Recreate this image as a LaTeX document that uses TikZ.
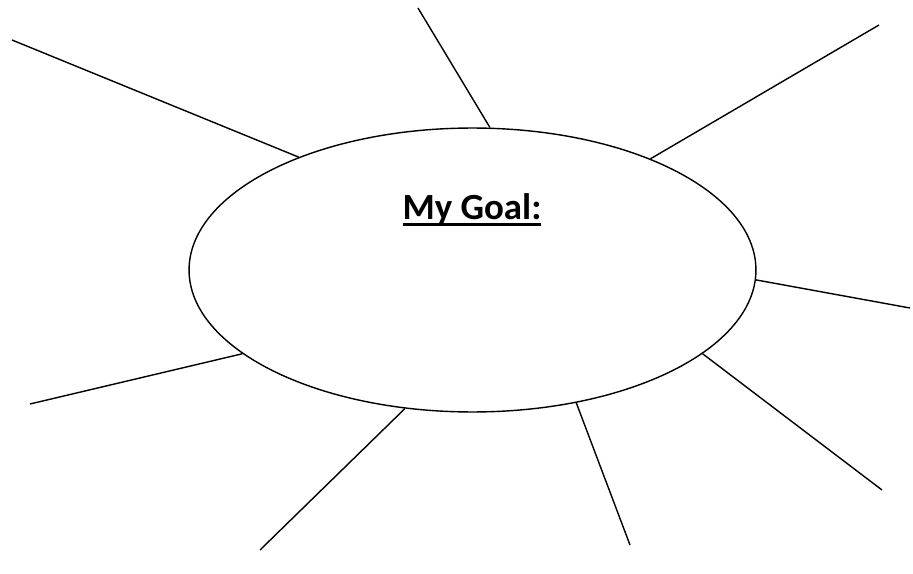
\documentclass[tikz,border=0pt]{standalone}
\usepackage{fontspec}
\setmainfont{Carlito}
\usepackage{tikz}
\usetikzlibrary{shapes.geometric}
\newcommand{\thickul}[1]{\setbox0\hbox{#1}\rlap{\rule[-4pt]{\wd0}{2pt}}\box0}

\begin{document}
\begin{tikzpicture}[x=0.02cm,y=-0.02cm,
   spoke/.style={line width=0.8pt,black},
   bubble/.style={draw,line width=0.8pt,ellipse,inner sep=0pt,
                  minimum width=11.34cm,minimum height=5.68cm}]
  \useasboundingbox (0,0) rectangle (913,574);
  \node[bubble] (goal) at (472.5,270) {};
  \node[font=\fontsize{21}{25}\selectfont\bfseries] (title) at (472,210) {\thickul{My Goal:}};
  % free ends of the spokes
  \coordinate (e1) at (12,40);
  \coordinate (e2) at (418,8);
  \coordinate (e3) at (879,25);
  \coordinate (e4) at (910,308);
  \coordinate (e5) at (882,490);
  \coordinate (e6) at (630,545);
  \coordinate (e7) at (260,550);
  \coordinate (e8) at (30,404);
  \draw[spoke] (goal.147.5) -- (e1);
  \draw[spoke] (goal.83.3) -- (e2);
  \draw[spoke] (goal.32) -- (e3);
  \draw[spoke] (goal.-2.8) -- (e4);
  \draw[spoke] (goal.-20.3) -- (e5);
  \draw[spoke] (goal.-52.1) -- (e6);
  \draw[spoke] (goal.-116.4) -- (e7);
  \draw[spoke] (goal.200.1) -- (e8);
\end{tikzpicture}
\end{document}
